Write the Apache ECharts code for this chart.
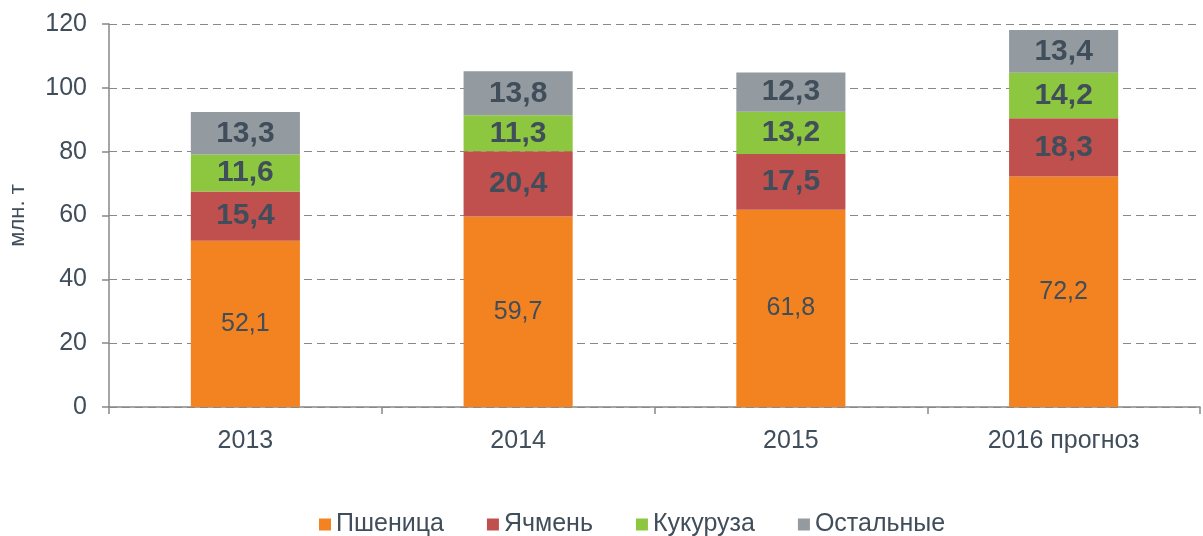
<!DOCTYPE html>
<html>
<head>
<meta charset="utf-8">
<script src="https://cdn.jsdelivr.net/npm/echarts@6/dist/echarts.min.js"></script>
<style>
  html, body { margin: 0; padding: 0; background: #fff; }
  #chart { width: 1203px; height: 536px; }
</style>
</head>
<body>
<div id="chart"></div>
<script>
const years = ['2013', '2014', '2015', '2016 прогноз']
const wheat = [52.1, 59.7, 61.8, 72.2]
const barley = [15.4, 20.4, 17.5, 18.3]
const corn = [11.6, 11.3, 13.2, 14.2]
const other = [13.3, 13.8, 12.3, 13.4]

const textColor = '#404d5a'
const font = 'Liberation Sans, Arial, sans-serif'

const fmt = p => String(p.value).replace('.', ',')

function layer(name, data, color, bold) {
  return {
    name: name,
    type: 'bar',
    stack: 'total',
    barWidth: '40%',
    data: data,
    itemStyle: { color: color },
    label: {
      show: true,
      position: 'inside',
      formatter: fmt,
      color: textColor,
      fontFamily: font,
      fontSize: bold ? 30 : 25,
      fontWeight: bold ? 'bold' : 'normal'
    }
  }
}

const chart = echarts.init(document.getElementById('chart'))
chart.setOption({
  animation: false,
  textStyle: { fontFamily: font },
  grid: { left: 109, right: 3, top: 24, bottom: 129, outerBoundsMode: 'none' },
  legend: {
    top: 507,
    left: 314,
    itemWidth: 12,
    itemHeight: 12,
    itemGap: 43,
    icon: 'rect',
    textStyle: { fontSize: 25, color: textColor, fontFamily: font },
    data: ['Пшеница', 'Ячмень', 'Кукуруза', 'Остальные']
  },
  xAxis: {
    type: 'category',
    data: years,
    axisLine: { lineStyle: { color: '#888', width: 1.5 } },
    axisTick: { show: true, length: 7, lineStyle: { color: '#888', width: 1.5 } },
    axisLabel: { fontSize: 25, color: textColor, margin: 22, fontFamily: font }
  },
  yAxis: {
    type: 'value',
    min: 0,
    max: 120,
    interval: 20,
    name: 'млн. т',
    nameLocation: 'middle',
    nameGap: 80,
    nameTextStyle: { fontSize: 22, color: textColor, fontFamily: font },
    axisLine: { show: true, lineStyle: { color: '#888', width: 1.5 } },
    axisTick: { show: true, length: 7, lineStyle: { color: '#888', width: 1.5 } },
    axisLabel: { fontSize: 25, color: textColor, margin: 22, fontFamily: font },
    splitLine: { lineStyle: { color: '#888', type: [8, 5], width: 1.2 } }
  },
  series: [
    layer('Пшеница', wheat, '#f38321', false),
    layer('Ячмень', barley, '#c0504d', true),
    layer('Кукуруза', corn, '#8dc63f', true),
    layer('Остальные', other, '#939aa0', true)
  ]
})
</script>
</body>
</html>
